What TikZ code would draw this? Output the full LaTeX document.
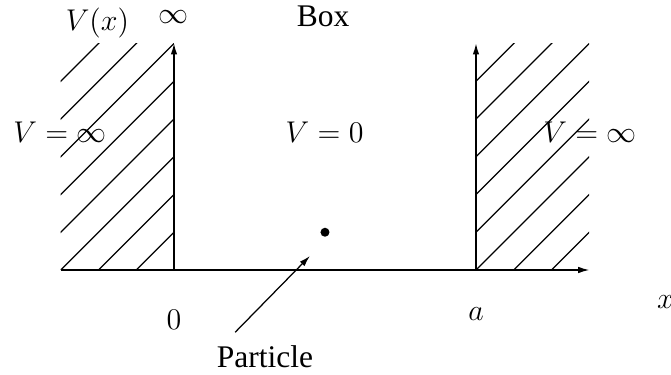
\documentclass[tikz,border=0pt]{standalone}
\usepackage{amsmath, amssymb}
\usepackage[no-math]{fontspec}
\setmainfont{Liberation Serif}
\usepackage{tikz}
\usetikzlibrary{arrows.meta, positioning, calc}

\begin{document}
\begin{tikzpicture}[x=15.1pt, y=15.1pt,
    axis/.style={line width=0.5pt, -{Latex[length=4.4pt, width=2.6pt]}},
    hatch/.style={line width=0.45pt},
    mlabel/.style={font=\fontsize{12.4}{15}\selectfont, inner sep=0pt},
    tlabel/.style={font=\fontsize{12.6}{15}\selectfont, inner sep=0pt}]
  \useasboundingbox (-4.609,-2.781) rectangle (13.166,7.152);

  % Hatched walls
  \begin{scope}
    \clip (-3,0) rectangle (0,6);
    \foreach \c in {-8,...,-1}
      \draw[hatch] (\c-6,-6) -- (\c+12,12);
  \end{scope}
  \begin{scope}
    \clip (8,0) rectangle (11,6);
    \foreach \c in {3,...,10}
      \draw[hatch] (\c-6,-6) -- (\c+12,12);
  \end{scope}

  % ---- Axes ----
  \coordinate (xstart) at (-3,0);
  \coordinate (xend) at (11,0);
  \coordinate (O) at (0,0);
  \coordinate (A) at (8,0);
  \draw[axis] (xstart) -- (xend);
  \draw[axis] (O) -- (0,6);
  \draw[axis] (A) -- (8,6);

  % ---- Labels ----
  \node[mlabel] (vx) at (-2.03,6.54) {$V(x)$};
  \node[mlabel] (inf) at (0,6.7) {$\infty$};
  \node[tlabel] (box) at (3.95,6.72) {Box};
  \node[mlabel] (vleft) at (-3.02,3.66) {$V=\infty$};
  \node[mlabel] (vmid) at (3.99,3.66) {$V=0$};
  \node[mlabel] (vright) at (11.02,3.66) {$V=\infty$};
  \node[mlabel] (zero) at (0,-1.31) {$0$};
  \node[mlabel] (alab) at (8,-1.18) {$a$};
  \node[mlabel] (xlab) at (13.02,-0.85) {$x$};

  % ---- Particle ----
  \fill (4,1) circle (1.8pt);
  \node[tlabel] (particle) at (2.41,-2.30) {Particle};
  \coordinate (ptail) at (1.62,-1.65);
  \coordinate (ptip) at (3.6,0.37);
  \draw[axis] (ptail) -- (ptip);
\end{tikzpicture}
\end{document}
